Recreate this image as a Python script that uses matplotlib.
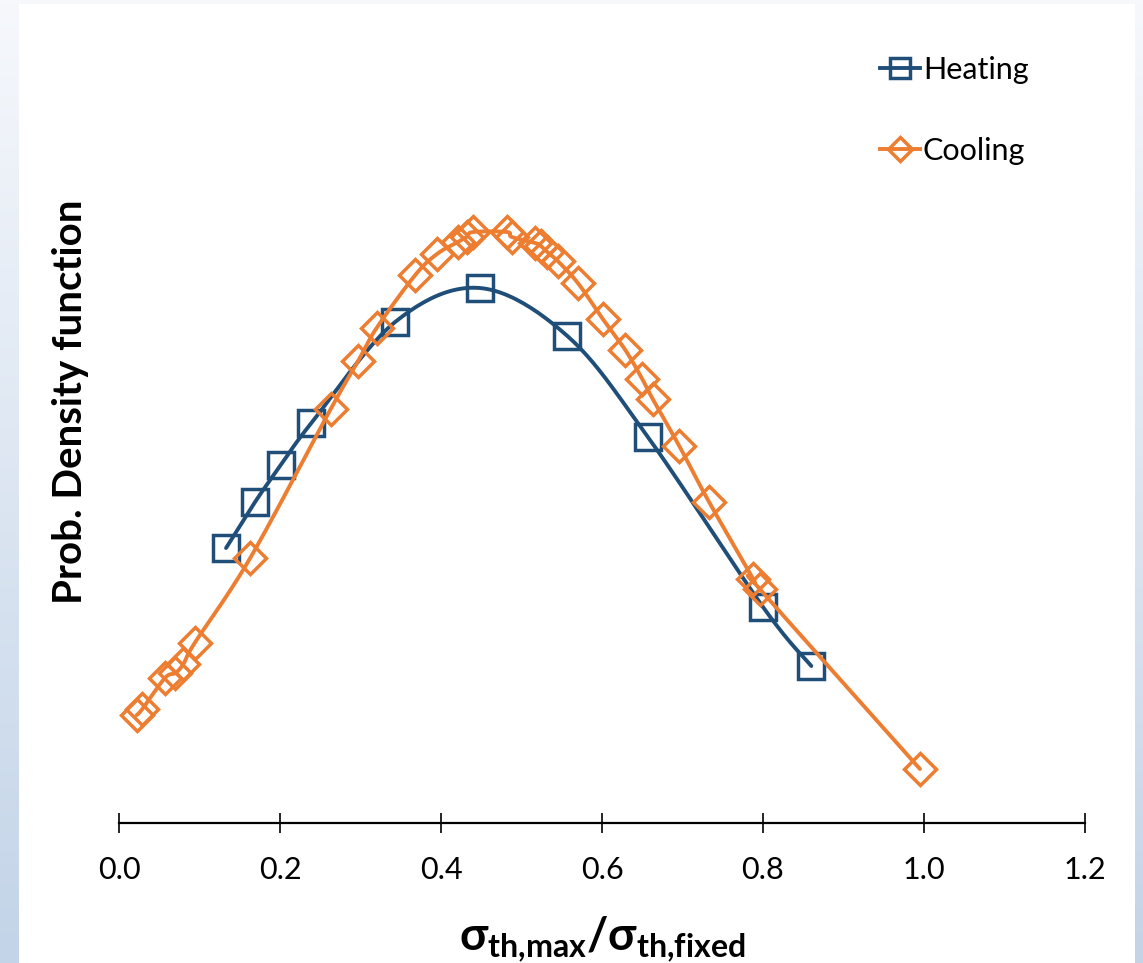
import numpy as np
import matplotlib
matplotlib.use("Agg")
import matplotlib.pyplot as plt
from matplotlib.lines import Line2D
from matplotlib.patches import Rectangle

plt.rcParams['font.family'] = ['Lato', 'DejaVu Sans']
plt.rcParams['mathtext.fontset'] = 'custom'
plt.rcParams['mathtext.rm'] = 'Lato'
plt.rcParams['mathtext.bf'] = 'Lato:bold'

# heating series
heat_x = [0.133, 0.169, 0.201, 0.239, 0.343, 0.448, 0.557, 0.657, 0.800, 0.860]
heat_y = [1.375, 1.605, 1.790, 2.000, 2.505, 2.675, 2.435, 1.930, 1.080, 0.785]

# cooling series
cool_x = [0.022, 0.029, 0.057, 0.070, 0.080, 0.094, 0.163, 0.263, 0.297, 0.320,
          0.368, 0.395, 0.421, 0.432, 0.440, 0.482, 0.488, 0.517, 0.524, 0.532,
          0.545, 0.570, 0.601, 0.629, 0.650, 0.663, 0.696, 0.733, 0.788, 0.796,
          0.995]
cool_y = [0.540, 0.570, 0.725, 0.750, 0.795, 0.900, 1.325, 2.070, 2.310, 2.475,
          2.740, 2.845, 2.905, 2.930, 2.955, 2.955, 2.930, 2.900, 2.885, 2.855,
          2.810, 2.700, 2.520, 2.365, 2.220, 2.120, 1.885, 1.605, 1.220, 1.170,
          0.270]

xticks = [0.0, 0.2, 0.4, 0.6, 0.8, 1.0, 1.2]

heat_color = '#1F4E79'
cool_color = '#ED7D31'


def smooth(x, y, n=24):
    # Catmull-Rom spline through the points (same look as spreadsheet smoothed lines)
    p = np.column_stack([x, y]).astype(float)
    p = np.vstack([p[0], p, p[-1]])
    out = []
    t = np.linspace(0, 1, n, endpoint=False)[:, None]
    for i in range(1, len(p) - 2):
        p0, p1, p2, p3 = p[i - 1], p[i], p[i + 1], p[i + 2]
        seg = 0.5 * ((2 * p1) + (-p0 + p2) * t + (2 * p0 - 5 * p1 + 4 * p2 - p3) * t ** 2
                     + (-p0 + 3 * p1 - 3 * p2 + p3) * t ** 3)
        out.append(seg)
    out.append(p[-2][None, :])
    out = np.vstack(out)
    return out[:, 0], out[:, 1]


fig = plt.figure(figsize=(11.43, 9.63), dpi=100)

# slide background: soft blue gradient with a white panel on top
bg = fig.add_axes([0, 0, 1, 1], zorder=-10)
grad = np.linspace(0, 1, 256)[:, None]
top = np.array(matplotlib.colors.to_rgb('#F6F8FC'))
bot = np.array(matplotlib.colors.to_rgb('#C3D4E8'))
img = top[None, None, :] * (1 - grad[:, :, None]) + bot[None, None, :] * grad[:, :, None]
bg.imshow(np.repeat(img, 2, axis=1), aspect='auto', extent=[0, 1, 0, 1])
bg.add_patch(Rectangle((19 / 1143, 0), (1135 - 19) / 1143, 1 - 4 / 963,
                       facecolor='white', edgecolor='none'))
bg.set_xlim(0, 1)
bg.set_ylim(0, 1)
bg.axis('off')

ax = fig.add_axes([119 / 1143, 140 / 963, 966 / 1143, 803 / 963])
ax.patch.set_alpha(0)

hx, hy = smooth(heat_x, heat_y)
cx, cy = smooth(cool_x, cool_y)
ax.plot(hx, hy, color=heat_color, lw=2.8, solid_capstyle='round', zorder=2)
ax.plot(heat_x, heat_y, ls='none', marker='s', ms=18.5, mfc='none', mec=heat_color,
        mew=2.5, zorder=3)
ax.plot(cx, cy, color=cool_color, lw=2.8, solid_capstyle='round', zorder=4)
ax.plot(cool_x, cool_y, ls='none', marker='D', ms=16.5, mfc='none', mec=cool_color,
        mew=2.5, zorder=5)

ax.set_xlim(0, 1.2)
ax.set_ylim(0, 4.015)
ax.set_xticks(xticks)
ax.set_xticklabels([f'{v:.1f}' for v in xticks], fontsize=22)
ax.set_yticks([])
for s in ['left', 'right', 'top']:
    ax.spines[s].set_visible(False)
ax.spines['bottom'].set_linewidth(1.6)
ax.tick_params(axis='x', direction='inout', length=15, width=1.2, pad=16)

ax.set_xlabel(r'$\mathbf{\sigma_{th{,}max}/\sigma_{th{,}fixed}}$', fontsize=33, labelpad=22)
ax.set_ylabel('Prob. Density function', fontsize=29, fontweight='bold')
ax.yaxis.set_label_coords(-0.031, 0.524)

handles = [
    Line2D([], [], color=heat_color, lw=2.8, marker='s', ms=14, mfc='none', mew=2.5),
    Line2D([], [], color=cool_color, lw=2.8, marker='D', ms=12.5, mfc='none', mew=2.5),
]
fig.legend(handles, ['Heating', 'Cooling'], loc='upper left',
           bbox_to_anchor=(880 / 1143, 1 - 56 / 963), frameon=False, fontsize=22,
           handlelength=1.3, handletextpad=0.1, labelspacing=1.72, borderpad=0,
           borderaxespad=0)

fig.savefig('out.png', dpi=100)
